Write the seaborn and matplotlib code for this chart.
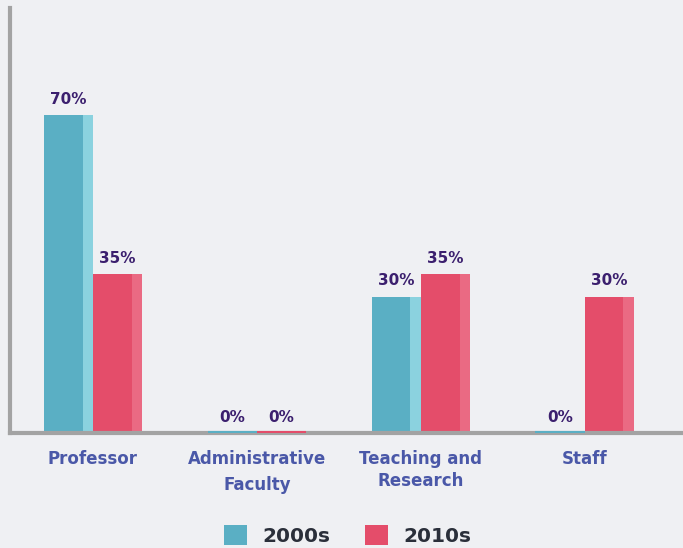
import pandas as pd
import seaborn as sns
import matplotlib.pyplot as plt
from matplotlib.patches import Rectangle, Patch

categories = ["Professor", "Administrative\nFaculty", "Teaching and\nResearch", "Staff"]
periods = ["2000s", "2010s"]
values_2000s = [70, 0, 30, 0]
values_2010s = [35, 0, 35, 30]

main_colors = ["#5aafc4", "#e44d6a"]
light_colors = ["#8bd2df", "#ea6a83"]
bg = "#eff0f3"

sns.set_style("white")
plt.rcParams["font.family"] = ["DejaVu Sans"]

df = pd.DataFrame({
    "Category": categories * 2,
    "Period": [periods[0]] * 4 + [periods[1]] * 4,
    "Value": values_2000s + values_2010s,
})

fig = plt.figure(figsize=(6.83, 5.48), dpi=100, facecolor=bg)
ax = fig.add_axes([0.0146, 0.21, 0.9854, 0.775])
ax.set_facecolor(bg)

sns.barplot(data=df, x="Category", y="Value", hue="Period", palette=main_colors,
            width=0.6, saturation=1, legend=False, ax=ax, linewidth=0)

# lighter strip on the right of each bar, and the value label on top
for i, container in enumerate(ax.containers):
    for bar in container:
        x, w, h = bar.get_x(), bar.get_width(), bar.get_height()
        if h > 0:
            ax.add_patch(Rectangle((x + w * 0.79, 0), w * 0.21, h,
                                   color=light_colors[i], lw=0, zorder=bar.get_zorder() + 0.1))
        else:
            ax.plot([x, x + w], [0.25, 0.25], color=main_colors[i], lw=1.5,
                    zorder=3, solid_capstyle="butt")
        ax.annotate(f"{h:.0f}%", (x + w / 2, h), xytext=(0, 6), textcoords="offset points",
                    ha="center", va="bottom", fontsize=11, fontweight="bold",
                    color="#3b1f6e")

ax.set_xlim(-0.506, 3.6)
ax.set_ylim(0, 93.5)
ax.set_xlabel("")
ax.set_ylabel("")
ax.set_yticks([])
ax.tick_params(axis="x", length=0, pad=12)
spacings = [1.2, 1.6, 1.3, 1.2]
for lab, sp in zip(ax.get_xticklabels(), spacings):
    lab.set_fontsize(12)
    lab.set_fontweight("bold")
    lab.set_color("#4a58a8")
    lab.set_linespacing(sp)

for side in ["top", "right"]:
    ax.spines[side].set_visible(False)
for side in ["left", "bottom"]:
    ax.spines[side].set_color("#a3a3a3")
    ax.spines[side].set_linewidth(3)

handles = [Patch(facecolor=c, edgecolor="none") for c in main_colors]
leg = fig.legend(handles, periods, loc="center", bbox_to_anchor=(0.509, 0.023), ncol=2,
                 frameon=False, handlelength=1.15, handleheight=1.15,
                 columnspacing=1.7, handletextpad=0.75,
                 prop={"family": "DejaVu Sans", "weight": "bold", "size": 14.5})
for t in leg.get_texts():
    t.set_color("#2a2f3a")

fig.savefig("out.png", dpi=100, facecolor=bg)
